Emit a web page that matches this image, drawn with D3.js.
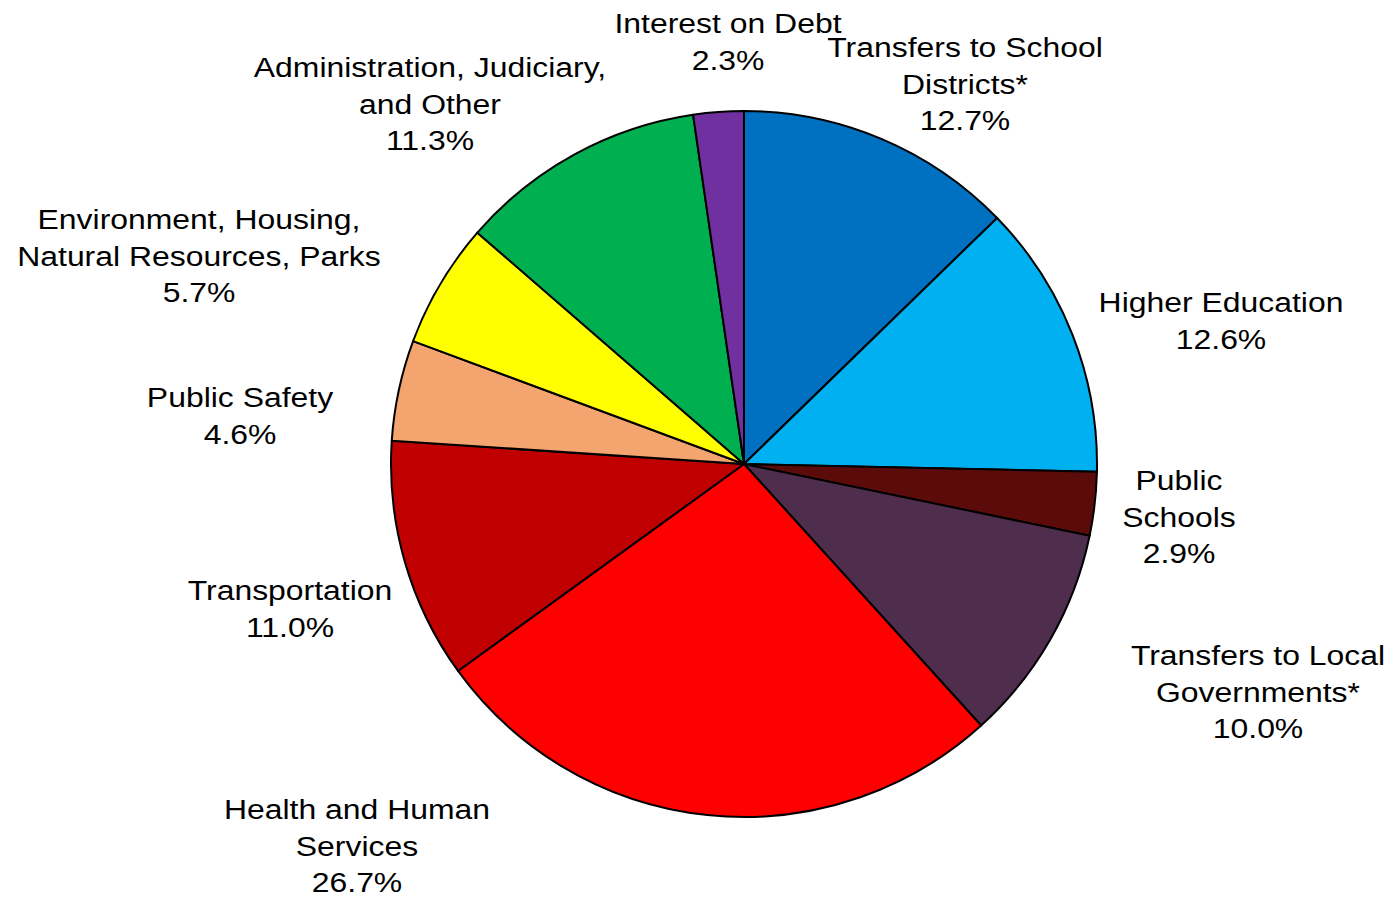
<!DOCTYPE html>
<html>
<head>
<meta charset="utf-8">
<script src="https://cdn.jsdelivr.net/npm/d3@7"></script>
<style>
  html, body { margin: 0; padding: 0; background: #ffffff; }
  svg { display: block; }
</style>
</head>
<body>
<svg id="chart" width="1392" height="897"></svg>
<script>
// ---- Data ----
const categories = [
  "Transfers to School|Districts*",
  "Higher Education",
  "Public|Schools",
  "Transfers to Local|Governments*",
  "Health and Human|Services",
  "Transportation",
  "Public Safety",
  "Environment, Housing,|Natural Resources, Parks",
  "Administration, Judiciary,|and Other",
  "Interest on Debt"
];
const values = [12.7, 12.6, 2.9, 10.0, 26.7, 11.0, 4.6, 5.7, 11.3, 2.3];
const valueLabels = ["12.7%", "12.6%", "2.9%", "10.0%", "26.7%", "11.0%", "4.6%", "5.7%", "11.3%", "2.3%"];

// ---- Styles / layout ----
const colors = ["#0070C0", "#00B0F0", "#5C0B0B", "#4F2D4D", "#FF0000", "#C00000", "#F4A46E", "#FFFF00", "#00B050", "#7030A0"];
const center = { x: 744, y: 464 };
const radius = 353;
// label anchor (text center x, first-line baseline) relative to pie center
const labelAnchor = [
  [221, -407], [477, -152], [435, 26], [514, 201],
  [-387, 355], [-454, 136], [-504, -57], [-545, -235],
  [-314, -387], [-16, -431]
];
const lineHeight = 36.7;
const stretchX = 1.14;

const svg = d3.select("#chart");
const g = svg.append("g").attr("transform", `translate(${center.x},${center.y})`);

const pie = d3.pie().sort(null).value(d => d.v);
const arc = d3.arc().innerRadius(0).outerRadius(radius);
const data = categories.map((c, i) => ({ c, v: values[i], lab: valueLabels[i], i }));

g.selectAll("path.slice")
  .data(pie(data))
  .join("path")
  .attr("class", "slice")
  .attr("d", arc)
  .attr("fill", d => colors[d.data.i])
  .attr("stroke", "#000")
  .attr("stroke-width", 2)
  .attr("stroke-linejoin", "round");

const labels = g.selectAll("text.lbl")
  .data(data)
  .join("text")
  .attr("class", "lbl")
  .attr("text-anchor", "middle")
  .attr("font-family", "Liberation Sans, Arial, sans-serif")
  .attr("font-size", 28)
  .attr("fill", "#000")
  .attr("transform", d => `translate(${labelAnchor[d.i][0]},${labelAnchor[d.i][1]}) scale(${stretchX},1)`);

labels.each(function(d) {
  const lines = d.c.split("|").concat([d.lab]);
  d3.select(this).selectAll("tspan")
    .data(lines)
    .join("tspan")
    .attr("x", 0)
    .attr("dy", (l, k) => k === 0 ? 0 : lineHeight)
    .text(l => l);
});
</script>
</body>
</html>
